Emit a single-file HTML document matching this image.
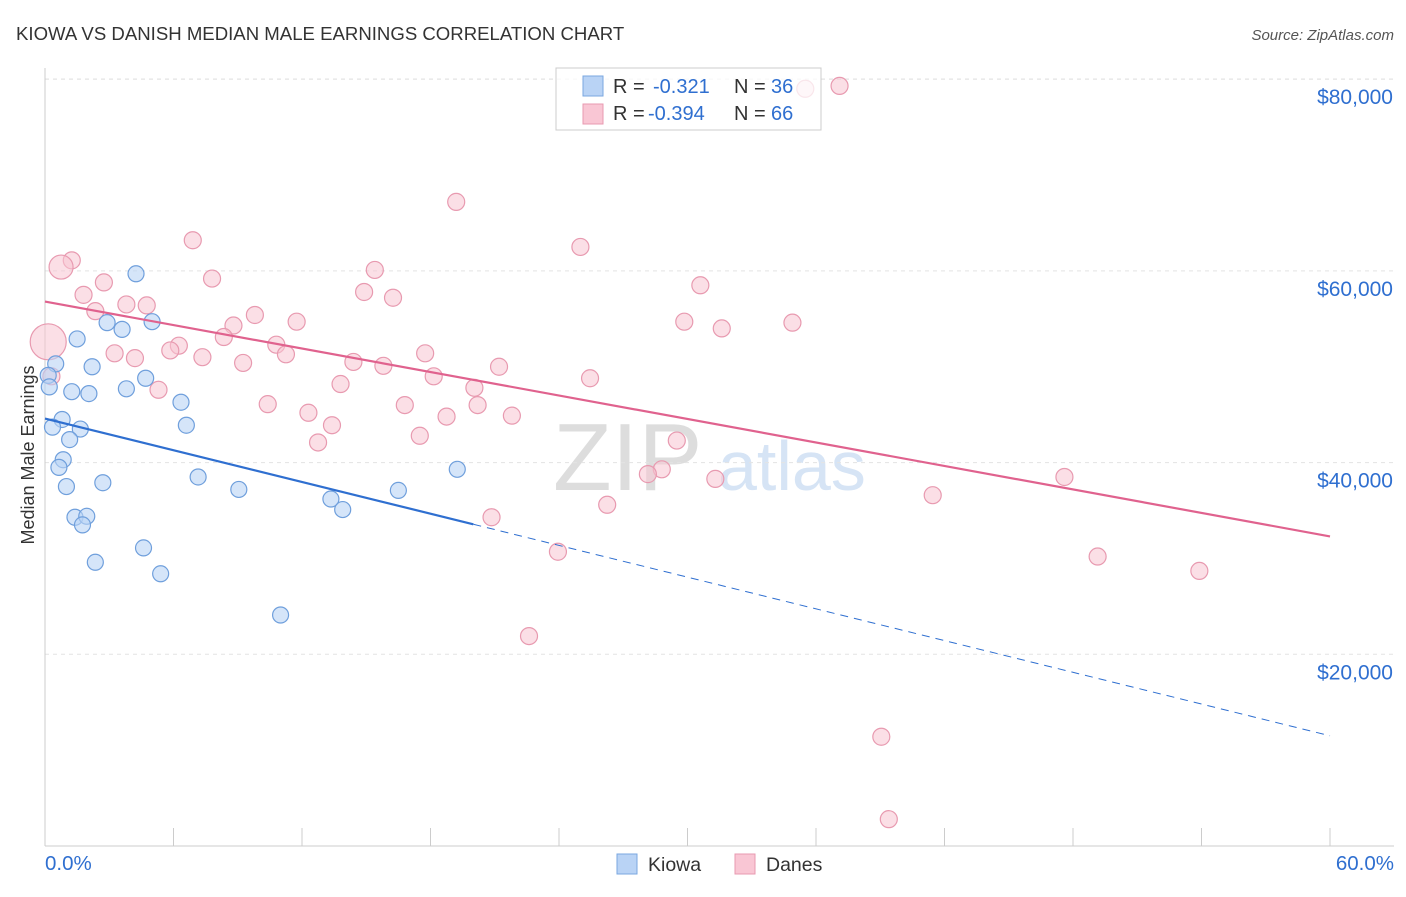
<!DOCTYPE html>
<html><head><meta charset="utf-8"><style>
body{margin:0;background:#fff;font-family:"Liberation Sans",sans-serif}
svg text{font-family:"Liberation Sans",sans-serif}
</style></head><body>
<svg id="c" width="1406" height="892">
<text x="16" y="40" font-size="18.6" fill="#333">KIOWA VS DANISH MEDIAN MALE EARNINGS CORRELATION CHART</text>
<text x="1394" y="40" font-size="15" fill="#555" font-style="italic" text-anchor="end">Source: ZipAtlas.com</text>
<text x="34" y="455" font-size="18" fill="#333" text-anchor="middle" transform="rotate(-90 34 455)">Median Male Earnings</text>
<text x="553" y="490" font-size="96" fill="#ddd" font-family="Liberation Serif">ZIP</text>
<text x="718" y="490" font-size="70" fill="#d6e4f5">atlas</text>
<g id="grid"></g><g id="marks"></g>
<g>
<rect x="556" y="68" width="265" height="62" fill="#fff" fill-opacity="0.75" stroke="#ccc"/>
<rect x="583" y="76" width="20" height="20" fill="#b9d3f5" stroke="#7aa7e0"/>
<rect x="583" y="104" width="20" height="20" fill="#f9c6d4" stroke="#e89ab0"/>
<text x="613" y="93" font-size="20" fill="#333">R =</text>
<text x="653" y="93" font-size="20" fill="#2f6fd0">-0.321</text>
<text x="734" y="93" font-size="20" fill="#333">N =</text>
<text x="771" y="93" font-size="20" fill="#2f6fd0">36</text>
<text x="613" y="120" font-size="20" fill="#333">R =</text>
<text x="648" y="120" font-size="20" fill="#2f6fd0">-0.394</text>
<text x="734" y="120" font-size="20" fill="#333">N =</text>
<text x="771" y="120" font-size="20" fill="#2f6fd0">66</text>
</g>
<g>
<rect x="617" y="854" width="20" height="20" fill="#b9d3f5" stroke="#7aa7e0"/>
<text x="648" y="871" font-size="19.5" fill="#333">Kiowa</text>
<rect x="735" y="854" width="20" height="20" fill="#f9c6d4" stroke="#e89ab0"/>
<text x="766" y="871" font-size="19.5" fill="#333">Danes</text>
</g>
</svg>
<script>
const yTicks=[20000,40000,60000,80000];
const yTickLabels=["$20,000","$40,000","$60,000","$80,000"];
const kiowaX=[4.25,5.0,2.9,3.6,1.5,0.5,2.2,0.15,4.7,0.2,3.8,1.25,2.05,6.35,0.8,6.6,0.35,1.65,1.15,0.85,0.65,19.25,7.15,1.0,2.7,9.05,13.35,16.5,13.9,1.4,1.95,1.75,4.6,2.35,5.4,11.0];
const kiowaY=[59.7,54.7,54.6,53.9,52.9,50.3,50.0,49.1,48.8,47.9,47.7,47.4,47.2,46.3,44.5,43.9,43.7,43.5,42.4,40.3,39.5,39.3,38.5,37.5,37.9,37.2,36.2,37.1,35.1,34.3,34.4,33.5,31.1,29.6,28.4,24.1];
const danesX=[37.1,35.5,19.2,6.9,25.0,1.25,0.75,15.4,7.8,2.75,1.8,14.9,16.25,3.8,4.75,30.6,2.35,9.8,11.75,29.85,34.9,8.8,31.6,8.35,0.15,10.8,6.25,5.85,11.25,3.25,7.35,4.2,9.25,14.4,17.75,21.2,15.8,18.15,25.45,13.8,5.3,20.05,10.4,16.8,20.2,12.3,18.75,21.8,13.4,17.5,12.75,29.5,28.8,28.15,31.3,47.6,41.45,20.85,26.25,23.95,49.15,53.9,22.6,39.05,39.4,0.3];
const danesY=[79.3,79.0,67.2,63.2,62.5,61.1,60.4,60.1,59.2,58.8,57.5,57.8,57.2,56.5,56.4,58.5,55.8,55.4,54.7,54.7,54.6,54.3,54.0,53.1,52.6,52.3,52.2,51.7,51.3,51.4,51.0,50.9,50.4,50.5,51.4,50.0,50.1,49.0,48.8,48.2,47.6,47.8,46.1,46.0,46.0,45.2,44.8,44.9,43.9,42.8,42.1,42.3,39.3,38.8,38.3,38.5,36.6,34.3,35.6,30.7,30.2,28.7,21.9,11.4,2.8,49.0];
const kiowaTrend=[44.6,11.5];
const danesTrend=[56.8,32.3];
const NS="http://www.w3.org/2000/svg";
const sx=p=>45+p/60*1285;
const sy=v=>846-v/20000*191.7;
const syk=k=>sy(k*1000);
function mk(t,a,p){const e=document.createElementNS(NS,t);for(const k in a)e.setAttribute(k,a[k]);p.appendChild(e);return e;}
const g=document.getElementById('grid'),m=document.getElementById('marks');
yTicks.forEach((v,i)=>{
 const l=mk('line',{x1:45,x2:1394,y1:sy(v),y2:sy(v),stroke:'#e3e3e3','stroke-dasharray':'4,4'},g);
 
 
 const t=mk('text',{x:1393,y:sy(v)+25,'font-size':21,fill:'#2f6fd0','text-anchor':'end'},g);t.textContent=yTickLabels[i];
 
 
});
mk('line',{x1:45,x2:1394,y1:79,y2:79,stroke:'#e3e3e3','stroke-dasharray':'4,4'},g);
mk('line',{x1:45,x2:45,y1:68,y2:846,stroke:'#ccc'},g);
mk('line',{x1:45,x2:1394,y1:846,y2:846,stroke:'#ccc'},g);
for(let i=0;i<=10;i++){mk('line',{x1:sx(i*6),x2:sx(i*6),y1:828,y2:846,stroke:'#ccc'},g);}
let t0=mk('text',{x:45,y:870,'font-size':20.5,fill:'#2f6fd0'},g);t0.textContent='0.0%';


let t1=mk('text',{x:1394,y:870,'font-size':20.5,fill:'#2f6fd0','text-anchor':'end'},g);t1.textContent='60.0%';


danesX.forEach((x,i)=>{
 const r=i===24?18:(i===6?12:8.5);
 const c=mk('circle',{cx:sx(x),cy:syk(danesY[i]),r:r,fill:'#f7c4d2','fill-opacity':0.55,stroke:'#e89ab0','stroke-width':1.2},m);
 
 
});
kiowaX.forEach((x,i)=>{
 const c=mk('circle',{cx:sx(x),cy:syk(kiowaY[i]),r:8,fill:'#b9d3f5','fill-opacity':0.6,stroke:'#6f9fdc','stroke-width':1.2},m);
 
 
});
const kAt=p=>kiowaTrend[0]+(kiowaTrend[1]-kiowaTrend[0])*p/60;
let kl=mk('line',{x1:sx(0),y1:syk(kAt(0)),x2:sx(20),y2:syk(kAt(20)),stroke:'#2f6fd0','stroke-width':2.2},m);


let kd=mk('line',{x1:sx(20),y1:syk(kAt(20)),x2:sx(60),y2:syk(kAt(60)),stroke:'#2f6fd0','stroke-width':1,'stroke-dasharray':'8,6'},m);


let dl=mk('line',{x1:sx(0),y1:syk(danesTrend[0]),x2:sx(60),y2:syk(danesTrend[1]),stroke:'#e0628e','stroke-width':2.2},m);


</script>
</body></html>
